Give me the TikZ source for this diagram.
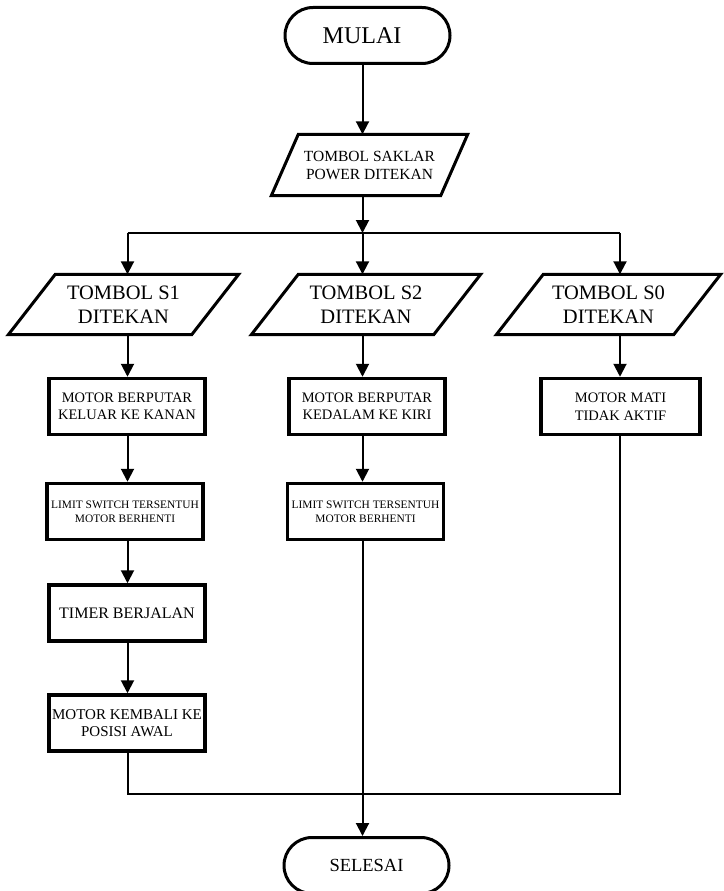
\documentclass[tikz,border=0pt]{standalone}
\usepackage{fontspec}
\setmainfont{Liberation Serif}
\usetikzlibrary{arrows.meta,calc}
\begin{document}
\begin{tikzpicture}[x=1pt,y=-1pt,
  conn/.style={line width=2pt, draw=black},
  arr/.style={conn, -{Triangle[length=13pt,width=13pt]}},
  term/.style={draw, line width=3pt, rounded corners=28pt, minimum width=165pt, minimum height=56pt, inner sep=0pt},
  procbox/.style={draw, line width=3.5pt, minimum width=156pt, minimum height=56pt, inner sep=0pt, align=center},
  paratext/.style={inner sep=0pt, minimum height=60pt, align=center},
  paraline/.style={line width=3pt, line join=miter},
]
\useasboundingbox (0,0) rectangle (723,891);

% terminators
\node[term, font=\fontsize{24}{28}\selectfont] (mulai) at (367.5,35.5) {MULAI\hspace*{11pt}};
\node[term, font=\fontsize{18.5}{21}\selectfont] (selesai) at (366.5,865.5) {SELESAI};

% parallelograms
\node[paratext, minimum width=196pt, minimum height=61pt, font=\fontsize{15.5}{18}\selectfont] (saklar) at (369.5,165) {TOMBOL SAKLAR\\POWER DITEKAN};
\draw[paraline] ([xshift=27pt]saklar.north west) -- (saklar.north east) -- ([xshift=-27pt]saklar.south east) -- (saklar.south west) -- cycle;

\node[paratext, minimum width=230pt, font=\fontsize{20.5}{24}\selectfont] (s1) at (123.5,304.5) {TOMBOL S1\\DITEKAN};
\draw[paraline] ([xshift=47pt]s1.north west) -- (s1.north east) -- ([xshift=-47pt]s1.south east) -- (s1.south west) -- cycle;

\node[paratext, minimum width=229pt, font=\fontsize{20.5}{24}\selectfont] (s2) at (366,304.5) {TOMBOL S2\\DITEKAN};
\draw[paraline] ([xshift=47pt]s2.north west) -- (s2.north east) -- ([xshift=-47pt]s2.south east) -- (s2.south west) -- cycle;

\node[paratext, minimum width=224pt, font=\fontsize{20.5}{24}\selectfont] (s0) at (608.5,304.5) {TOMBOL S0\\DITEKAN};
\draw[paraline] ([xshift=47pt]s0.north west) -- (s0.north east) -- ([xshift=-47pt]s0.south east) -- (s0.south west) -- cycle;

% process boxes
\node[procbox, font=\fontsize{14.5}{17}\selectfont] (b1) at (127,406.5) {MOTOR BERPUTAR\\KELUAR KE KANAN};
\node[procbox, font=\fontsize{14.5}{17}\selectfont] (b2) at (367,406.5) {MOTOR BERPUTAR\\KEDALAM KE KIRI};
\node[procbox, minimum width=159pt, font=\fontsize{14.5}{18}\selectfont] (b3) at (620.5,406.5) {MOTOR MATI\\TIDAK AKTIF};
\node[procbox, font=\fontsize{11.4}{14}\selectfont] (l1) at (125,511.5) {LIMIT SWITCH TERSENTUH\\MOTOR BERHENTI};
\node[procbox, font=\fontsize{11.4}{14}\selectfont] (l2) at (365.5,511.5) {LIMIT SWITCH TERSENTUH\\MOTOR BERHENTI};
\node[procbox, font=\fontsize{16}{19}\selectfont] (t1) at (127,613) {TIMER BERJALAN};
\node[procbox, font=\fontsize{15}{17}\selectfont] (k1) at (127,723) {MOTOR KEMBALI KE\\POSISI AWAL};

% junction coordinates
\coordinate (cL) at (127.5,233);
\coordinate (cM) at (362.5,233);
\coordinate (cR) at (620,233);
\coordinate (m1) at (127.5,794);
\coordinate (m2) at (620,794);

% connectors
\draw[arr] (mulai.south -| cM) -- (saklar.north -| cM);
\draw[arr] (saklar.south -| cM) -- (cM);
\draw[conn] (cL) -- (cR);
\draw[arr] (cL) -- (s1.north -| cL);
\draw[arr] (cM) -- (s2.north -| cM);
\draw[arr] (cR) -- (s0.north -| cR);

\draw[arr] (s1.south -| cL) -- (b1.north -| cL);
\draw[arr] (b1.south -| cL) -- (l1.north -| cL);
\draw[arr] (l1.south -| cL) -- (t1.north -| cL);
\draw[arr] (t1.south -| cL) -- (k1.north -| cL);
\draw[conn] (k1.south -| cL) -- (m1) -- (m2) -- (b3.south -| cR);

\draw[arr] (s2.south -| cM) -- (b2.north -| cM);
\draw[arr] (b2.south -| cM) -- (l2.north -| cM);
\draw[arr] (l2.south -| cM) -- (selesai.north -| cM);

\draw[arr] (s0.south -| cR) -- (b3.north -| cR);
\end{tikzpicture}
\end{document}
